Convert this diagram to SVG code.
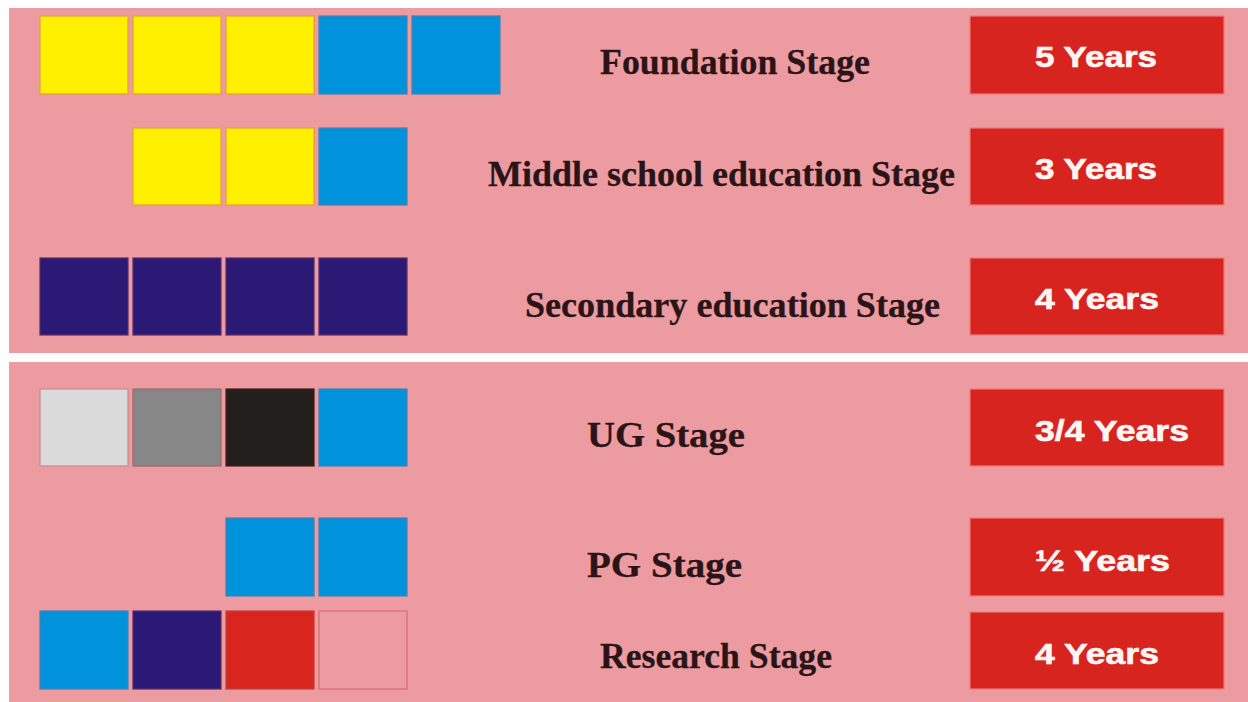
<svg xmlns="http://www.w3.org/2000/svg" width="1248" height="702" viewBox="0 0 1248 702">
  <style>
    .sq { stroke-width: 1.2; }
    .yel { fill: #fff000; stroke: #e4a03c; }
    .blu { fill: #0092da; stroke: #4a7fb2; }
    .nav { fill: #2b1976; stroke: #5a2a6a; }
    .lgr { fill: #dadada; stroke: #c88a8a; }
    .gry { fill: #878787; stroke: #9a6a6a; }
    .blk { fill: #231f1c; stroke: #4a1a1a; }
    .red { fill: #d8261f; stroke: #c0403a; }
    .emp { fill: #ec9ba1; stroke: #dc6c70; }
    .box { fill: #d8241f; stroke: #f07a7a; stroke-width: 1.2; }
    .stage { font-family: "Liberation Serif", "Times New Roman", serif; font-weight: bold; font-size: 36px; fill: #2a1417; stroke: #2a1417; stroke-width: 0.3; }
    .yrs { font-family: "Liberation Sans", Arial, sans-serif; font-weight: bold; font-size: 29px; fill: #fff6f4; stroke: #fff6f4; stroke-width: 0.6; }
  </style>

  <!-- page background and the two panels -->
  <rect x="0" y="0" width="1248" height="702" fill="#ffffff"/>
  <rect x="9" y="8" width="1239" height="345" fill="#ec9ba1"/>
  <rect x="9" y="362" width="1239" height="340" fill="#ec9ba1"/>

  <!-- Foundation stage -->
  <g id="foundation">
    <rect class="sq yel" x="40" y="16" width="88" height="78"/>
    <rect class="sq yel" x="133" y="16" width="88" height="78"/>
    <rect class="sq yel" x="226" y="16" width="88" height="78"/>
    <rect class="sq blu" x="319" y="16" width="88" height="78"/>
    <rect class="sq blu" x="412" y="16" width="88" height="78"/>
    <text class="stage" x="600" y="74" textLength="270" lengthAdjust="spacingAndGlyphs">Foundation Stage</text>
    <rect class="box" x="970" y="16" width="254" height="78"/>
    <text class="yrs" x="1035" y="67" textLength="122" lengthAdjust="spacingAndGlyphs">5 Years</text>
  </g>

  <!-- Middle school stage -->
  <g id="middle">
    <rect class="sq yel" x="133" y="128" width="88" height="77"/>
    <rect class="sq yel" x="226" y="128" width="88" height="77"/>
    <rect class="sq blu" x="319" y="128" width="88" height="77"/>
    <text class="stage" x="488" y="186" textLength="467" lengthAdjust="spacingAndGlyphs">Middle school education Stage</text>
    <rect class="box" x="970" y="128" width="254" height="77"/>
    <text class="yrs" x="1035" y="179" textLength="122" lengthAdjust="spacingAndGlyphs">3 Years</text>
  </g>

  <!-- Secondary stage -->
  <g id="secondary">
    <rect class="sq nav" x="40" y="258" width="88" height="77"/>
    <rect class="sq nav" x="133" y="258" width="88" height="77"/>
    <rect class="sq nav" x="226" y="258" width="88" height="77"/>
    <rect class="sq nav" x="319" y="258" width="88" height="77"/>
    <text class="stage" x="525" y="317" textLength="415" lengthAdjust="spacingAndGlyphs">Secondary education Stage</text>
    <rect class="box" x="970" y="258" width="254" height="77"/>
    <text class="yrs" x="1035" y="309" textLength="124" lengthAdjust="spacingAndGlyphs">4 Years</text>
  </g>

  <!-- UG stage -->
  <g id="ug">
    <rect class="sq lgr" x="40" y="389" width="88" height="77"/>
    <rect class="sq gry" x="133" y="389" width="88" height="77"/>
    <rect class="sq blk" x="226" y="389" width="88" height="77"/>
    <rect class="sq blu" x="319" y="389" width="88" height="77"/>
    <text class="stage" x="587" y="447" textLength="158" lengthAdjust="spacingAndGlyphs">UG Stage</text>
    <rect class="box" x="970" y="389" width="254" height="77"/>
    <text class="yrs" x="1035" y="441" textLength="154" lengthAdjust="spacingAndGlyphs">3/4 Years</text>
  </g>

  <!-- PG stage -->
  <g id="pg">
    <rect class="sq blu" x="226" y="518" width="88" height="78"/>
    <rect class="sq blu" x="319" y="518" width="88" height="78"/>
    <text class="stage" x="587" y="577" textLength="155" lengthAdjust="spacingAndGlyphs">PG Stage</text>
    <rect class="box" x="970" y="518" width="254" height="78"/>
    <text class="yrs" x="1035" y="571" textLength="135" lengthAdjust="spacingAndGlyphs">½ Years</text>
  </g>

  <!-- Research stage -->
  <g id="research">
    <rect class="sq blu" x="40" y="611" width="88" height="78"/>
    <rect class="sq nav" x="133" y="611" width="88" height="78"/>
    <rect class="sq red" x="226" y="611" width="88" height="78"/>
    <rect class="sq emp" x="319" y="611" width="88" height="78"/>
    <text class="stage" x="600" y="668" textLength="232" lengthAdjust="spacingAndGlyphs">Research Stage</text>
    <rect class="box" x="970" y="612" width="254" height="77"/>
    <text class="yrs" x="1035" y="664" textLength="124" lengthAdjust="spacingAndGlyphs">4 Years</text>
  </g>
</svg>
